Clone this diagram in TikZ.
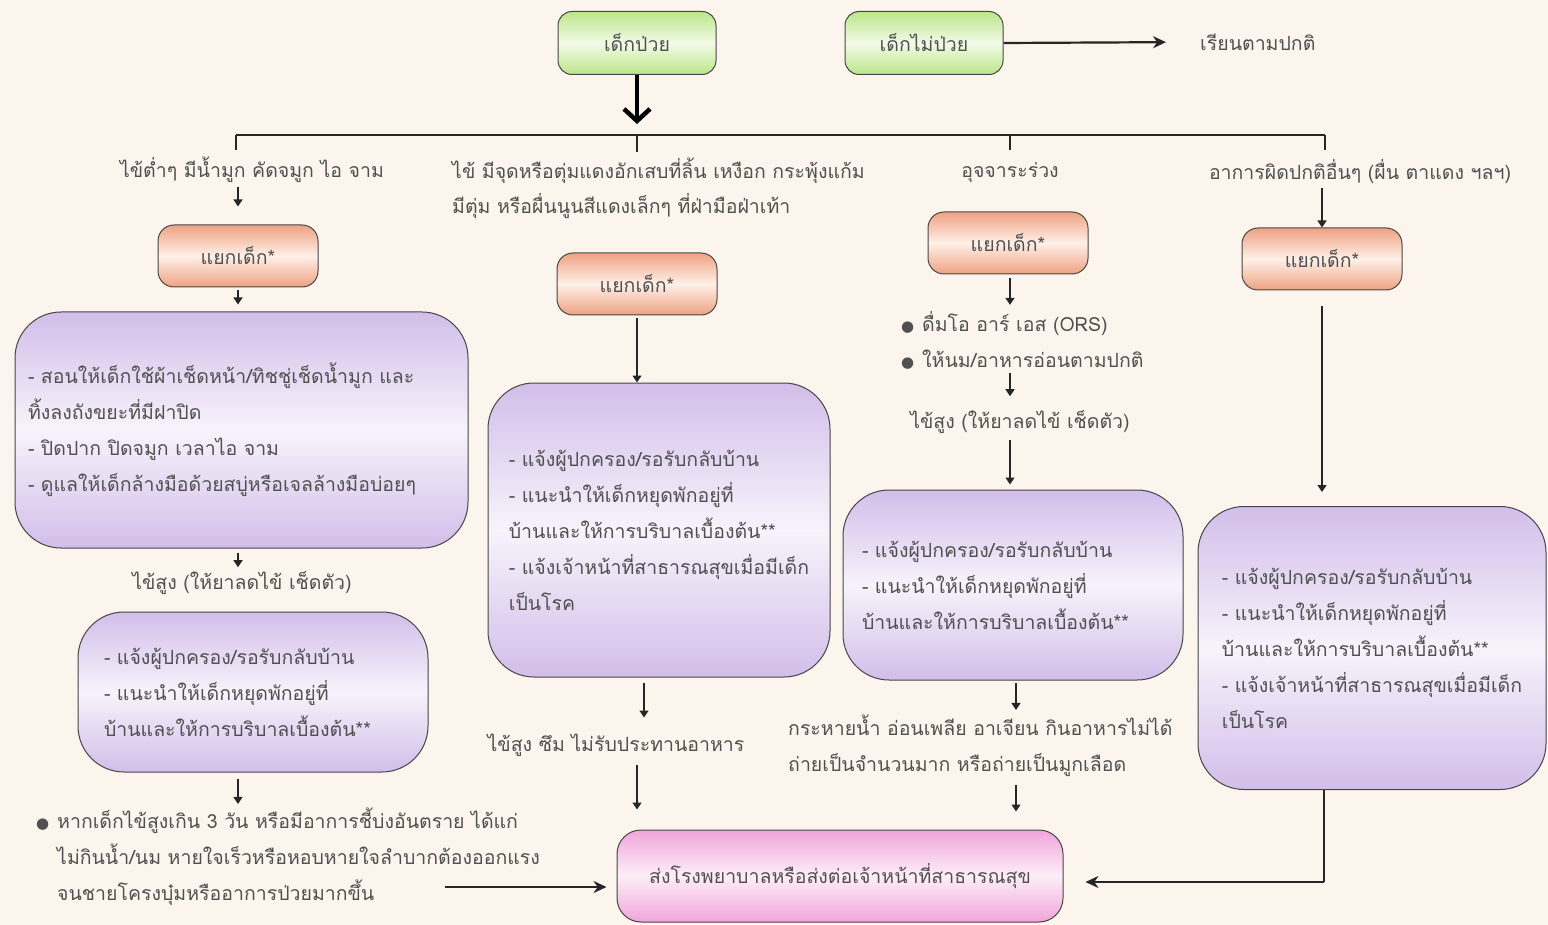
\documentclass[tikz,border=0pt]{standalone}
\usepackage{fontspec}
\setmainfont[Script=Thai]{Loma}
\newfontfamily\symfont{DejaVu Sans}
\usetikzlibrary{arrows.meta}
\definecolor{bg}{RGB}{252,245,238}
\definecolor{txt}{RGB}{80,80,80}
\definecolor{edge}{RGB}{70,70,70}
\definecolor{grn}{RGB}{188,230,136}
\definecolor{grnm}{RGB}{242,250,232}
\definecolor{sal}{RGB}{238,162,130}
\definecolor{salm}{RGB}{255,240,232}
\definecolor{pur}{RGB}{210,190,234}
\definecolor{purm}{RGB}{247,243,251}
\definecolor{pnk}{RGB}{240,165,218}
\definecolor{pnkm}{RGB}{253,238,248}
\newcommand{\bul}{\llap{{\symfont\fontsize{15}{15}\selectfont ●}\hspace{8pt}}}
\tikzset{
  base/.style={font=\fontsize{19.5}{36}\selectfont, text=txt, inner sep=2pt},
  gbox/.style={base, draw=edge, line width=1pt, rounded corners=14pt,
    top color=grn, bottom color=grn, middle color=grnm,
    minimum width=158pt, minimum height=63pt},
  sbox/.style={base, draw=edge, line width=1pt, rounded corners=16pt,
    top color=sal, bottom color=sal, middle color=salm,
    minimum width=160pt, minimum height=62pt},
  pbox/.style={base, draw=edge, line width=1pt, rounded corners=46pt,
    top color=pur, bottom color=pur, middle color=purm, align=left},
  fbox/.style={base, draw=edge, line width=1pt, rounded corners=24pt,
    top color=pnk, bottom color=pnk, middle color=pnkm,
    minimum width=446pt, minimum height=92pt},
  smarr/.style={draw=black!85, line width=1.3pt, -{Triangle[length=7pt,width=9pt]}},
  medarr/.style={draw=black!85, line width=2.2pt, -{Stealth[length=13pt,width=12pt]}},
  bigarr/.style={draw=black, line width=4.5pt, -{Straight Barb[length=12pt,width=26pt]}},
  thin/.style={draw=black!85, line width=1.3pt},
  barline/.style={draw=black!85, line width=2pt}
}
\begin{document}
\begin{tikzpicture}[x=1pt,y=-1pt]
\fill[bg] (0,0) rectangle (1548,925);
\useasboundingbox (0,0) rectangle (1548,925);

% top
\node[gbox] (sick) at (637,43) {เด็กป่วย};
\node[gbox] (well) at (924,43) {เด็กไม่ป่วย};
\node[base, anchor=west] (normal) at (1198,42) {เรียนตามปกติ};
\draw[medarr, shorten >=32pt] (well.east) -- (normal.west);

% bar
\coordinate (b1) at (236,135);
\coordinate (b2) at (637,135);
\coordinate (b3) at (1010,135);
\coordinate (b4) at (1325,135);
\coordinate (b1d) at (236,150);
\coordinate (b2d) at (637,152);
\coordinate (b3d) at (1010,150);
\coordinate (b4d) at (1325,150);
\draw[bigarr, shorten >=11pt] (sick.south) -- (b2);
\draw[barline] (b1) -- (b4);
\draw[thin] (b1) -- (b1d);
\draw[thin] (b2) -- (b2d);
\draw[thin] (b3) -- (b3d);
\draw[thin] (b4) -- (b4d);

% labels
\node[base] (l1) at (252,170) {ไข้ต่ำๆ มีน้ำมูก คัดจมูก ไอ จาม};
\node[base, align=left, anchor=west, font=\fontsize{19.5}{35}\selectfont] (l2) at (450,188)
  {ไข้ มีจุดหรือตุ่มแดงอักเสบที่ลิ้น เหงือก กระพุ้งแก้ม\\มีตุ่ม หรือผื่นนูนสีแดงเล็กๆ ที่ฝ่ามือฝ่าเท้า};
\node[base] (l3) at (1010,172) {อุจจาระร่วง};
\node[base] (l4) at (1360,172) {อาการผิดปกติอื่นๆ (ผื่น ตาแดง ฯลฯ)};

% isolation boxes
\node[sbox] (i1) at (238,256) {แยกเด็ก*};
\node[sbox] (i2) at (637,284) {แยกเด็ก*};
\node[sbox] (i3) at (1008,243) {แยกเด็ก*};
\node[sbox] (i4) at (1322,259) {แยกเด็ก*};

\draw[smarr, shorten <=2pt, shorten >=18pt] (l1.south -| i1.north) -- (i1.north);
\draw[smarr, shorten <=2pt] (l4.south -| i4.north) -- (i4.north);

% left branch
\node[pbox, minimum width=453pt, minimum height=236pt, inner xsep=13pt, text width=427pt] (p1) at (241.5,430)
  {- สอนให้เด็กใช้ผ้าเช็ดหน้า/ทิชชู่เช็ดน้ำมูก และ\\ทิ้งลงถังขยะที่มีฝาปิด\\- ปิดปาก ปิดจมูก เวลาไอ จาม\\- ดูแลให้เด็กล้างมือด้วยสบู่หรือเจลล้างมือบ่อยๆ};
\draw[smarr, shorten <=3pt, shorten >=7pt] (i1.south) -- (i1.south |- p1.north);
\node[base] (f1) at (242,583) {ไข้สูง (ให้ยาลดไข้ เช็ดตัว)};
\draw[smarr, shorten <=4pt, shorten >=2pt] (p1.south -| i1.south) -- (i1.south |- f1.north);
\node[pbox, minimum width=350pt, minimum height=160pt, inner xsep=26pt, text width=298pt] (p2) at (253,692)
  {- แจ้งผู้ปกครอง/รอรับกลับบ้าน\\- แนะนำให้เด็กหยุดพักอยู่ที่\\บ้านและให้การบริบาลเบื้องต้น**};
\node[base, align=left, anchor=west] (w1) at (55,857)
  {\bul หากเด็กไข้สูงเกิน 3 วัน หรือมีอาการชี้บ่งอันตราย ได้แก่\\ไม่กินน้ำ/นม หายใจเร็วหรือหอบหายใจลำบากต้องออกแรง\\จนชายโครงบุ๋มหรืออาการป่วยมากขึ้น};
\draw[smarr, shorten <=6pt, shorten >=2pt] (p2.south -| i1.south) -- (i1.south |- w1.north);

% final box
\node[fbox] (fin) at (840,876) {ส่งโรงพยาบาลหรือส่งต่อเจ้าหน้าที่สาธารณสุข};
\coordinate (wa) at (445,887);
\draw[medarr, shorten >=10pt] (wa) -- (fin.west |- wa);

% middle branch
\node[pbox, minimum width=342pt, minimum height=294pt] (p3) at (659,530)
  {- แจ้งผู้ปกครอง/รอรับกลับบ้าน\\- แนะนำให้เด็กหยุดพักอยู่ที่\\บ้านและให้การบริบาลเบื้องต้น**\\- แจ้งเจ้าหน้าที่สาธารณสุขเมื่อมีเด็ก\\เป็นโรค};
\draw[smarr, shorten <=3pt] (i2.south) -- (i2.south |- p3.north);
\node[base] (h2) at (616,745) {ไข้สูง ซึม ไม่รับประทานอาหาร};
\coordinate (p3b) at (644,677);
\draw[smarr, shorten <=6pt, shorten >=14pt] (p3b) -- (p3b |- h2.north);
\draw[smarr, shorten <=6pt, shorten >=20pt] (h2.south -| i2.south) -- (fin.north -| i2.south);

% third branch
\node[base, align=left, anchor=west] (o1) at (920,340)
  {\bul ดื่มโอ อาร์ เอส (ORS)\\\bul ให้นม/อาหารอ่อนตามปกติ};
\draw[smarr, shorten <=4pt, shorten >=4pt] (i3.south -| b3) -- (o1.north -| b3);
\node[base] (f3) at (1020,422) {ไข้สูง (ให้ยาลดไข้ เช็ดตัว)};
\draw[smarr, shorten <=2pt, shorten >=12pt] (o1.south -| b3) -- (f3.north -| b3);
\node[pbox, minimum width=340pt, minimum height=190pt, inner xsep=19pt, text width=302pt] (p4) at (1013,585)
  {- แจ้งผู้ปกครอง/รอรับกลับบ้าน\\- แนะนำให้เด็กหยุดพักอยู่ที่\\บ้านและให้การบริบาลเบื้องต้น**};
\draw[smarr, shorten <=4pt, shorten >=5pt] (f3.south -| b3) -- (p4.north -| b3);
\node[base, align=left, anchor=west] (d3) at (786,746)
  {กระหายน้ำ อ่อนเพลีย อาเจียน กินอาหารไม่ได้\\ถ่ายเป็นจำนวนมาก หรือถ่ายเป็นมูกเลือด};
\coordinate (p4b) at (1016,680);
\draw[smarr, shorten <=3pt, shorten >=3pt] (p4b) -- (p4b |- d3.north);
\draw[smarr, shorten <=6pt, shorten >=18pt] (d3.south -| p4b) -- (fin.north -| p4b);

% right branch
\node[pbox, minimum width=348pt, minimum height=283pt] (p5) at (1372,648)
  {- แจ้งผู้ปกครอง/รอรับกลับบ้าน\\- แนะนำให้เด็กหยุดพักอยู่ที่\\บ้านและให้การบริบาลเบื้องต้น**\\- แจ้งเจ้าหน้าที่สาธารณสุขเมื่อมีเด็ก\\เป็นโรค};
\draw[smarr, shorten <=16pt, shorten >=14pt] (i4.south) -- (i4.south |- p5.north);
\coordinate (rc) at (1324,882);
\draw[thin] (p5.south -| rc) -- (rc);
\draw[medarr, shorten >=22pt] (rc) -- (fin.east |- rc);
\end{tikzpicture}
\end{document}
